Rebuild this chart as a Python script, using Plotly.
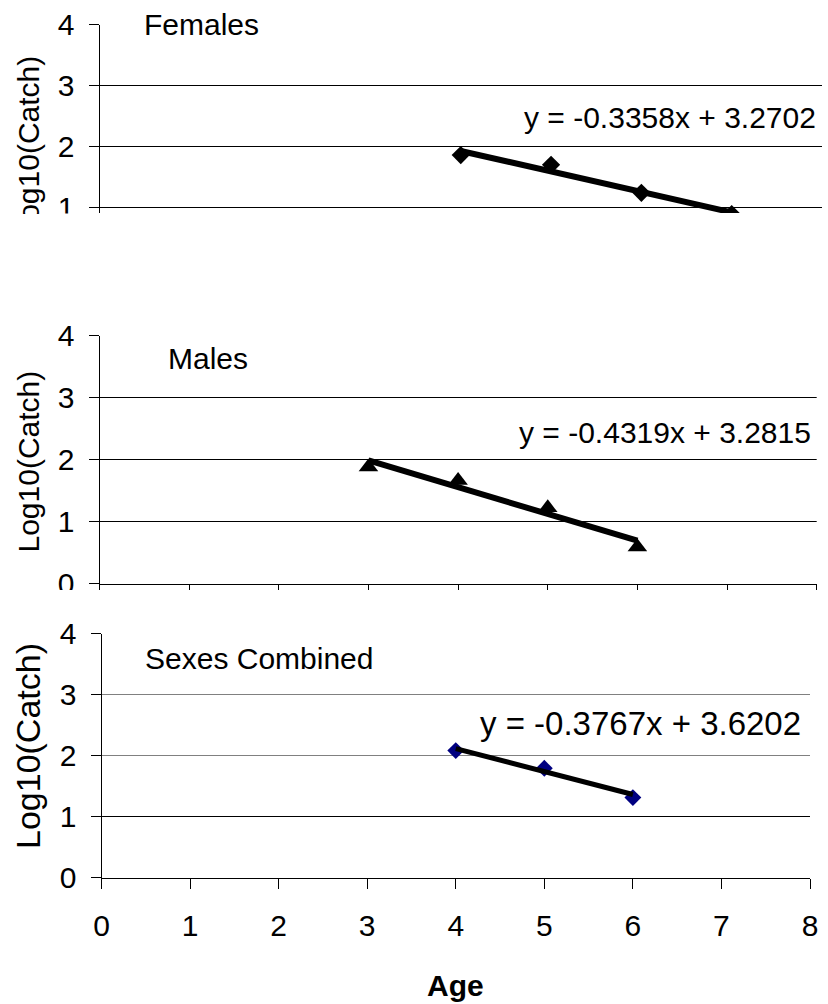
import numpy as np
import plotly.graph_objects as go

# ---------------- data ----------------
fem_age = [4, 5, 6, 7]
fem_log = [1.86, 1.70, 1.24, 0.893]
fem_slope, fem_icpt = -0.3358, 3.2702
fem_eq = "y = -0.3358x + 3.2702"

male_age = [3, 4, 5, 6]
male_log = [1.88, 1.66, 1.22, 0.59]
male_slope, male_icpt = -0.4319, 3.2815
male_eq = "y = -0.4319x + 3.2815"

comb_age = [4, 5, 6]
comb_log = [2.08, 1.79, 1.31]
comb_slope, comb_icpt = -0.3767, 3.6202
comb_eq = "y = -0.3767x + 3.6202"

panel_names = ["Females", "Males", "Sexes Combined"]
x_ticks = [0, 1, 2, 3, 4, 5, 6, 7, 8]
y_ticks = [0, 1, 2, 3, 4]
grid_vals = [1, 2, 3]
y_title = "Log10(Catch)"
x_title = "Age"

# ---------------- layout helpers ----------------
W, H = 828, 1004
FONT = "Arial, Liberation Sans, sans-serif"


def px_x(p):
    return p / W


def px_y(p):
    return 1 - p / H


fig = go.Figure()


def trend(ages, slope, icpt):
    xs = np.array([min(ages), max(ages)], dtype=float)
    return xs, slope * xs + icpt


# Females (axis 1)
tx, ty = trend(fem_age, fem_slope, fem_icpt)
fig.add_trace(go.Scatter(x=fem_age, y=fem_log, mode="markers",
                         marker=dict(symbol="diamond", size=14, color="black"),
                         xaxis="x", yaxis="y", showlegend=False))
fig.add_trace(go.Scatter(x=tx, y=ty, mode="lines", line=dict(color="black", width=6),
                         xaxis="x", yaxis="y", showlegend=False))

# Males (axis 2)
tx, ty = trend(male_age, male_slope, male_icpt)
fig.add_trace(go.Scatter(x=male_age, y=male_log, mode="markers",
                         marker=dict(symbol="triangle-up", size=17, color="black"),
                         xaxis="x2", yaxis="y2", showlegend=False))
fig.add_trace(go.Scatter(x=tx, y=ty, mode="lines", line=dict(color="black", width=6),
                         xaxis="x2", yaxis="y2", showlegend=False))

# Combined (axis 3)
tx, ty = trend(comb_age, comb_slope, comb_icpt)
fig.add_trace(go.Scatter(x=comb_age, y=comb_log, mode="markers",
                         marker=dict(symbol="diamond", size=13, color="#000080"),
                         xaxis="x3", yaxis="y3", showlegend=False))
fig.add_trace(go.Scatter(x=tx, y=ty, mode="lines", line=dict(color="black", width=5),
                         xaxis="x3", yaxis="y3", showlegend=False))

# panel geometry (pixels); y edges chosen so gridlines fall on crisp pixels
panels = [
    dict(x0=99.5, x1=822.0, y0=24.5, y1=213.0, yr=[4 - (213.0 - 24.5) / 61.0, 4]),
    dict(x0=99.5, x1=816.7, y0=335.5, y1=583.5, yr=[0, 4]),
    dict(x0=101.5, x1=810.0, y0=633.5, y1=877.5, yr=[0, 4]),
]

axis_common = dict(showgrid=False, zeroline=False, linecolor="black", linewidth=1,
                   tickcolor="black", tickwidth=1, ticklen=10, ticks="outside",
                   automargin=False,
                   tickfont=dict(family=FONT, size=30, color="black"))

for i, p in enumerate(panels):
    sfx = "" if i == 0 else str(i + 1)
    xa = dict(axis_common, domain=[px_x(p["x0"]), px_x(p["x1"])], range=[0, 8],
              tickvals=x_ticks, anchor="y" + sfx, fixedrange=True,
              ticklabelstandoff=11)
    ya = dict(axis_common, domain=[px_y(p["y1"]), px_y(p["y0"])], range=p["yr"],
              tickvals=y_ticks, anchor="x" + sfx, showline=True, fixedrange=True,
              ticklabelstandoff=8)
    if i == 0:
        xa.update(showline=False, ticks="", showticklabels=False)
    elif i == 1:
        xa.update(showline=True, showticklabels=False)
    else:
        xa.update(showline=True, showticklabels=True)
    fig.update_layout(**{"xaxis" + sfx: xa, "yaxis" + sfx: ya})

# gridlines
grid_colors = [["black"] * 3, ["black"] * 3, ["black", "#808080", "#808080"]]
shapes = []
for i in range(3):
    sfx = "" if i == 0 else str(i + 1)
    for g, c in zip(grid_vals, grid_colors[i]):
        shapes.append(dict(type="line", xref="x" + sfx + " domain", yref="y" + sfx,
                           x0=0, x1=1, y0=g, y1=g, line=dict(color=c, width=1),
                           layer="below"))

# white crop masks (the original panels were cropped)
shapes.append(dict(type="rect", xref="paper", yref="paper", x0=0, x1=1,
                   y0=px_y(300), y1=px_y(213.5), fillcolor="white",
                   line=dict(width=0), layer="above"))
shapes.append(dict(type="rect", xref="paper", yref="paper", x0=0, x1=1,
                   y0=px_y(621), y1=px_y(590), fillcolor="white",
                   line=dict(width=0), layer="above"))

annotations = []


def ann(text, x, y, size=30, bold=False, angle=0, xanchor="left"):
    annotations.append(dict(text=("<b>%s</b>" % text) if bold else text,
                            xref="paper", yref="paper", x=px_x(x), y=px_y(y),
                            xanchor=xanchor, yanchor="middle", showarrow=False,
                            textangle=angle,
                            font=dict(family=FONT, size=size, color="black")))


ann(panel_names[0], 142, 25)
ann(panel_names[1], 166, 358)
ann(panel_names[2], 143, 658)
ann(fem_eq, 522, 117)
ann(male_eq, 517, 432)
ann(comb_eq, 478, 723, size=33)
ann(y_title, 28, 146.5, angle=-90, xanchor="center")
ann(y_title, 28, 461.5, angle=-90, xanchor="center")
ann(y_title, 28, 746, size=34, angle=-90, xanchor="center")
ann(x_title, 455.75, 985, bold=True, xanchor="center")

# white cover that reproduces the crop of the top panel's axis title
annotations.append(dict(text=" ", xref="paper", yref="paper",
                        x=px_x(28), y=px_y(234), xanchor="center", yanchor="middle",
                        width=54, height=38, bgcolor="white", showarrow=False,
                        borderwidth=0, borderpad=1))

fig.update_layout(width=W, height=H, autosize=False,
                  margin=dict(l=0, r=0, t=0, b=0, pad=0, autoexpand=False),
                  paper_bgcolor="white", plot_bgcolor="white",
                  shapes=shapes, annotations=annotations,
                  font=dict(family=FONT, color="black"))

fig.write_html("out.html", config={"displayModeBar": False},
               post_script="document.body.style.margin='0';"
                           "document.body.style.overflow='hidden';")
